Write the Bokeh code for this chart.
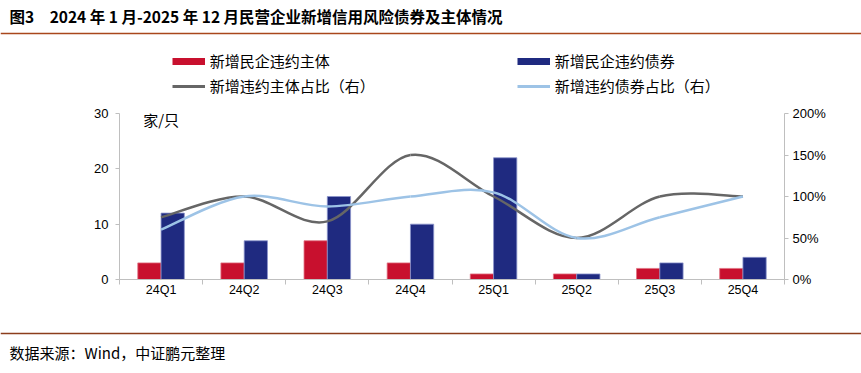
from bokeh.plotting import figure
from bokeh.layouts import column, row
from bokeh.models import (Range1d, LinearAxis, FixedTicker, PrintfTickFormatter,
                          Legend, LegendItem, Label, ColumnDataSource, Spacer)
from bokeh.core.properties import value
from bokeh.embed import file_html
from bokeh.resources import INLINE

# ---------------- data ----------------
quarters = ["24Q1", "24Q2", "24Q3", "24Q4", "25Q1", "25Q2", "25Q3", "25Q4"]
new_issuers = [3, 3, 7, 3, 1, 1, 2, 2]            # 新增民企违约主体
new_bonds = [12, 7, 15, 10, 22, 1, 3, 4]           # 新增民企违约债券
issuer_ratio = [75, 100, 70, 150, 100, 50, 100, 100]  # 新增违约主体占比（右）%
bond_ratio = [60, 100, 88, 100, 105, 50, 75, 100]     # 新增违约债券占比（右）%
left_ticks = [0, 10, 20, 30]
right_ticks = [0, 50, 100, 150, 200]

title_text = "图3\u30002024 年 1 月-2025 年 12 月民营企业新增信用风险债券及主体情况"
footer_text = "数据来源：Wind，中证鹏元整理"
unit_text = "家/只"

CJK = "Noto Sans CJK SC"
LAT = "Liberation Sans"
RED = "#C8102E"
NAVY = "#1F2A80"
GRAY = "#666666"
LBLUE = "#9DC3E6"
AXIS = "#BFBFBF"
BROWN = "#A9471C"

W = 861
LEFT_PAD = 79

# ---------------- top strip: title + legend ----------------
TOP_H = 105
top = figure(width=W, height=TOP_H, x_range=Range1d(0, W), y_range=Range1d(TOP_H, 0),
             toolbar_location=None, output_backend="svg", min_border=0)
top.axis.visible = False
top.grid.visible = False
top.outline_line_color = None
top.text(x=[9], y=[15], text=[title_text], text_font=value(CJK), text_font_style="bold",
         text_font_size="15.5px", text_baseline="middle", text_color="#000000")
top.segment(x0=[0], y0=[33], x1=[W], y1=[33], line_color=BROWN, line_width=1.5)

# legend swatches (off-screen data, only their legend glyphs are seen)
off = dict(x=[-1000, -999], y=[-1000, -999])
r_red = top.line(x=off["x"], y=off["y"], line_color=RED, line_width=7, line_cap="butt")
r_navy = top.line(x=off["x"], y=off["y"], line_color=NAVY, line_width=7, line_cap="butt")
r_gray = top.line(x=off["x"], y=off["y"], line_color=GRAY, line_width=3)
r_lblue = top.line(x=off["x"], y=off["y"], line_color=LBLUE, line_width=3)

def make_legend(items, x):
    return Legend(items=items, location=(x, 9), orientation="vertical",
                  glyph_width=33, glyph_height=20, label_height=20, label_standoff=5,
                  spacing=4, padding=0, margin=0, border_line_color=None,
                  background_fill_alpha=0, label_text_font=CJK,
                  label_text_font_size="15px", label_text_color="#000000")

top.add_layout(make_legend([LegendItem(label="新增民企违约主体", renderers=[r_red]),
                            LegendItem(label="新增违约主体占比（右）", renderers=[r_gray])], 171.7))
top.add_layout(make_legend([LegendItem(label="新增民企违约债券", renderers=[r_navy]),
                            LegendItem(label="新增违约债券占比（右）", renderers=[r_lblue])], 516.7))

# ---------------- chart ----------------
n = len(quarters)
centers = [i + 0.5 for i in range(n)]
bw = 0.28
chart = figure(width=W - LEFT_PAD, height=205, x_range=Range1d(0, n), y_range=Range1d(0, 30),
               toolbar_location=None, output_backend="svg",
               min_border_left=40, min_border_right=77, min_border_top=8, min_border_bottom=31)
chart.extra_y_ranges = {"pct": Range1d(0, 200)}
chart.grid.visible = False
chart.outline_line_color = None

src = ColumnDataSource(dict(xr=[c - bw / 2 for c in centers], xb=[c + bw / 2 for c in centers],
                            issuers=new_issuers, bonds=new_bonds))
chart.vbar(x="xr", top="issuers", width=bw, source=src, fill_color=RED, line_color="#E07080", line_width=0.8)
chart.vbar(x="xb", top="bonds", width=bw, source=src, fill_color=NAVY, line_color="#8C94CC", line_width=0.8)

def bezier_data(xs, ys):
    m = len(xs)
    d = dict(x0=[], y0=[], x1=[], y1=[], cx0=[], cy0=[], cx1=[], cy1=[])
    for i in range(m - 1):
        xa, ya = (xs[i - 1], ys[i - 1]) if i > 0 else (xs[i], ys[i])
        xb, yb = (xs[i + 2], ys[i + 2]) if i + 2 < m else (xs[i + 1], ys[i + 1])
        d["x0"].append(xs[i]); d["y0"].append(ys[i])
        d["x1"].append(xs[i + 1]); d["y1"].append(ys[i + 1])
        d["cx0"].append(xs[i] + (xs[i + 1] - xa) / 6); d["cy0"].append(ys[i] + (ys[i + 1] - ya) / 6)
        d["cx1"].append(xs[i + 1] - (xb - xs[i]) / 6); d["cy1"].append(ys[i + 1] - (yb - ys[i]) / 6)
    return ColumnDataSource(d)

chart.bezier(x0="x0", y0="y0", x1="x1", y1="y1", cx0="cx0", cy0="cy0", cx1="cx1", cy1="cy1",
             source=bezier_data(centers, issuer_ratio), line_color=GRAY, line_width=2.5, y_range_name="pct")
chart.bezier(x0="x0", y0="y0", x1="x1", y1="y1", cx0="cx0", cy0="cy0", cx1="cx1", cy1="cy1",
             source=bezier_data(centers, bond_ratio), line_color=LBLUE, line_width=2.5, y_range_name="pct")

# x axis
xa = chart.xaxis[0]
xa.ticker = FixedTicker(ticks=centers, minor_ticks=list(range(n + 1)))
xa.major_label_overrides = {c: q for c, q in zip(centers, quarters)}
xa.major_tick_line_color = None
xa.major_tick_out = 0
xa.major_tick_in = 0
xa.minor_tick_out = 5
xa.minor_tick_in = 0
xa.minor_tick_line_color = AXIS
xa.axis_line_color = AXIS
xa.major_label_standoff = -2
xa.major_label_text_font = LAT
xa.major_label_text_font_size = "12.5px"
xa.major_label_text_color = "#000000"

# left axis
ya = chart.yaxis[0]
ya.ticker = FixedTicker(ticks=left_ticks, minor_ticks=[])
ya.major_tick_out = 4
ya.major_tick_in = 0
ya.minor_tick_line_color = None
ya.major_tick_line_color = AXIS
ya.axis_line_color = AXIS
ya.major_label_standoff = 7
ya.major_label_text_font = LAT
ya.major_label_text_font_size = "13px"
ya.major_label_text_color = "#000000"

# right axis
ra = LinearAxis(y_range_name="pct", ticker=FixedTicker(ticks=right_ticks, minor_ticks=[]),
                formatter=PrintfTickFormatter(format="%d%%"))
ra.major_tick_out = 4
ra.major_tick_in = 0
ra.minor_tick_line_color = None
ra.major_tick_line_color = AXIS
ra.axis_line_color = AXIS
ra.major_label_standoff = 4
ra.major_label_text_font = LAT
ra.major_label_text_font_size = "13px"
ra.major_label_text_color = "#000000"
chart.add_layout(ra, "right")

chart.add_layout(Label(x=0.285, y=29.0, text=unit_text, text_font=CJK, text_font_size="15px",
                       text_baseline="middle", text_color="#000000"))

# ---------------- footer strip ----------------
FH = 63
foot = figure(width=W, height=FH, x_range=Range1d(0, W), y_range=Range1d(FH, 0),
              toolbar_location=None, output_backend="svg", min_border=0)
foot.axis.visible = False
foot.grid.visible = False
foot.outline_line_color = None
foot.segment(x0=[0], y0=[23], x1=[W], y1=[23], line_color="#8C3D1C", line_width=1.5)
foot.text(x=[9], y=[42], text=[footer_text], text_font=value(CJK), text_font_size="15px",
          text_baseline="middle", text_color="#000000")

layout = column(top, row(Spacer(width=LEFT_PAD, height=205), chart), foot)
open("out.html", "w").write(file_html(layout, INLINE))
